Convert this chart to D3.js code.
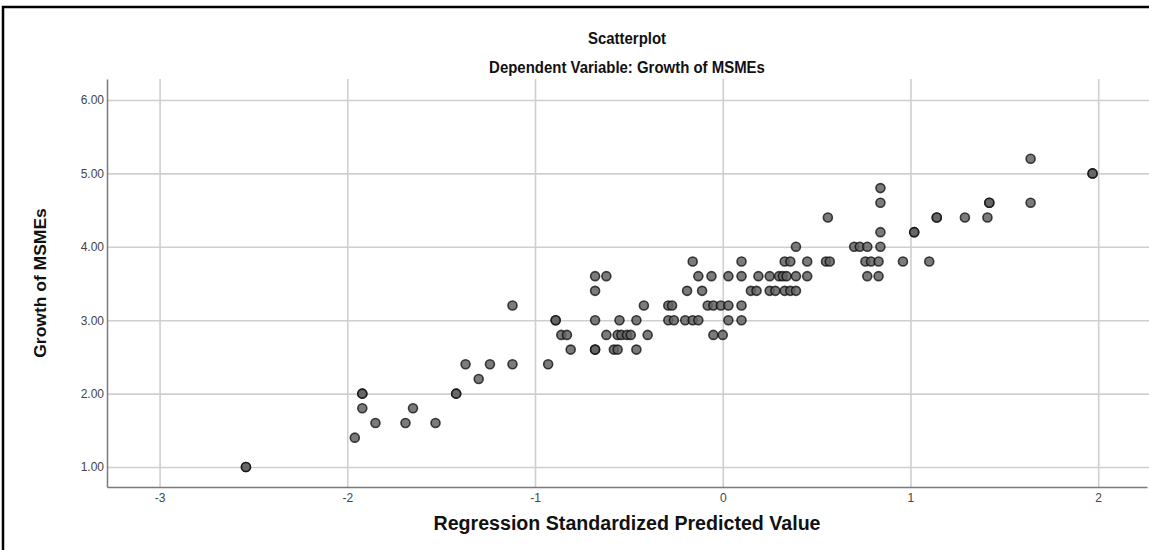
<!DOCTYPE html>
<html>
<head>
<meta charset="utf-8">
<script src="https://cdn.jsdelivr.net/npm/d3@7"></script>
<style>
  body { margin: 0; background: #fff; }
  text { font-family: "Liberation Sans", Arial, sans-serif; }
</style>
</head>
<body>
<div id="chart"></div>
<script>
var width = 1149;
var height = 550;

// tick values
var xTicks = [-3, -2, -1, 0, 1, 2];
var yTicks = [1, 2, 3, 4, 5, 6];

// regression standardized predicted value (x) and growth of MSMEs (y)
var predicted = [
  -2.54, -2.54, -1.96, -1.92, -1.92, -1.92, -1.85, -1.69, -1.65, -1.53,
  -1.42, -1.42, -1.37, -1.30, -1.24, -1.12, -1.12, -0.93, -0.89, -0.89,
  -0.86, -0.83, -0.81, -0.68, -0.62, -0.68, -0.68, -0.68, -0.68, -0.62,
  -0.56, -0.54, -0.51, -0.49, -0.55, -0.46, -0.58, -0.56, -0.46, -0.42,
  -0.40, -0.29, -0.27, -0.29, -0.26, -0.20, -0.16, -0.13, -0.16, -0.13,
  -0.06, -0.19, -0.11, -0.08, -0.05, -0.01, 0.03, -0.05, 0.00, 0.03,
  0.10, 0.10, 0.03, 0.10, 0.10, 0.15, 0.18, 0.19, 0.25, 0.25,
  0.28, 0.30, 0.32, 0.34, 0.33, 0.36, 0.39, 0.39, 0.45, 0.33,
  0.36, 0.45, 0.39, 0.55, 0.57, 0.56, 0.70, 0.73, 0.77, 0.76,
  0.79, 0.83, 0.77, 0.83, 0.84, 0.84, 0.84, 0.84, 0.96, 1.02,
  1.02, 1.10, 1.14, 1.14, 1.29, 1.41, 1.42, 1.42, 1.64, 1.64,
  1.97, 1.97
];
var growth = [
  1.0, 1.0, 1.4, 2.0, 2.0, 1.8, 1.6, 1.6, 1.8, 1.6,
  2.0, 2.0, 2.4, 2.2, 2.4, 2.4, 3.2, 2.4, 3.0, 3.0,
  2.8, 2.8, 2.6, 3.6, 3.6, 3.4, 3.0, 2.6, 2.6, 2.8,
  2.8, 2.8, 2.8, 2.8, 3.0, 3.0, 2.6, 2.6, 2.6, 3.2,
  2.8, 3.2, 3.2, 3.0, 3.0, 3.0, 3.0, 3.0, 3.8, 3.6,
  3.6, 3.4, 3.4, 3.2, 3.2, 3.2, 3.2, 2.8, 2.8, 3.0,
  3.0, 3.8, 3.6, 3.6, 3.2, 3.4, 3.4, 3.6, 3.6, 3.4,
  3.4, 3.6, 3.6, 3.6, 3.4, 3.4, 3.4, 3.6, 3.6, 3.8,
  3.8, 3.8, 4.0, 3.8, 3.8, 4.4, 4.0, 4.0, 4.0, 3.8,
  3.8, 3.8, 3.6, 3.6, 4.0, 4.2, 4.6, 4.8, 3.8, 4.2,
  4.2, 3.8, 4.4, 4.4, 4.4, 4.4, 4.6, 4.6, 4.6, 5.2,
  5.0, 5.0
];

var margin = {left: 107, right: 2, top: 79, bottom: 63};

var svg = d3.select("#chart")
  .append("svg")
  .attr("width", width)
  .attr("height", height);

// outer frame
svg.append("rect")
  .attr("x", 3)
  .attr("y", 7)
  .attr("width", width + 20)
  .attr("height", height + 20)
  .attr("fill", "none")
  .attr("stroke", "#000")
  .attr("stroke-width", 2.5);

var x = d3.scaleLinear()
  .domain([-3.28, 2.26])
  .range([margin.left, width - margin.right]);

var y = d3.scaleLinear()
  .domain([0.728, 6.286])
  .range([height - margin.bottom, margin.top]);

// gridlines
svg.append("g")
  .attr("class", "grid")
  .attr("transform", "translate(0," + (height - margin.bottom) + ")")
  .call(d3.axisBottom(x).tickValues(xTicks).tickSize(-(height - margin.bottom - margin.top)).tickFormat(""))
  .call(function(g) { g.select(".domain").remove(); })
  .selectAll("line")
  .attr("stroke", "#cfcfcf")
  .attr("stroke-width", 1.6);

svg.append("g")
  .attr("class", "grid")
  .attr("transform", "translate(" + margin.left + ",0)")
  .call(d3.axisLeft(y).tickValues(yTicks).tickSize(-(width - margin.left)).tickFormat(""))
  .call(function(g) { g.select(".domain").remove(); })
  .selectAll("line")
  .attr("stroke", "#cfcfcf")
  .attr("stroke-width", 1.6);

// axes (plain hyphen for negatives, like the original)
var xAxis = svg.append("g")
  .attr("transform", "translate(0," + (height - margin.bottom) + ")")
  .call(d3.axisBottom(x).tickValues(xTicks).tickSize(0).tickPadding(6)
    .tickFormat(function(d) { return String(d); }));

var yAxis = svg.append("g")
  .attr("transform", "translate(" + margin.left + ",0)")
  .call(d3.axisLeft(y).tickValues(yTicks).tickSize(0).tickPadding(3).tickFormat(d3.format(".2f")));

[xAxis, yAxis].forEach(function(g) {
  g.select(".domain").attr("stroke", "#7a7a7a").attr("stroke-width", 1.5);
  g.selectAll("text")
    .attr("fill", "#444")
    .style("font-size", "12px");
});

// points
svg.append("g")
  .selectAll("circle")
  .data(predicted)
  .enter()
  .append("circle")
  .attr("cx", function(d) { return x(d); })
  .attr("cy", function(d, i) { return y(growth[i]); })
  .attr("r", 4.5)
  .attr("fill", "rgba(100,100,100,0.85)")
  .attr("stroke", "rgba(10,10,10,0.75)")
  .attr("stroke-width", 1.6);

// titles, slightly condensed like the source
function title(xp, yp, size, sx, str) {
  svg.append("text")
    .attr("transform", "translate(" + xp + "," + yp + ") scale(" + sx + ",1)")
    .attr("text-anchor", "middle")
    .style("font-size", size + "px")
    .style("font-weight", "bold")
    .attr("fill", "#111")
    .text(str);
}

title(627, 44, 17, 0.88, "Scatterplot");
title(627, 73, 17, 0.88, "Dependent Variable: Growth of MSMEs");
title(627, 530, 21, 0.935, "Regression Standardized Predicted Value");

svg.append("text")
  .attr("transform", "translate(46," + ((margin.top + height - margin.bottom) / 2) + ") rotate(-90) scale(1,0.9)")
  .attr("text-anchor", "middle")
  .style("font-size", "17.5px")
  .style("font-weight", "bold")
  .attr("fill", "#111")
  .text("Growth of MSMEs");
</script>
</body>
</html>
